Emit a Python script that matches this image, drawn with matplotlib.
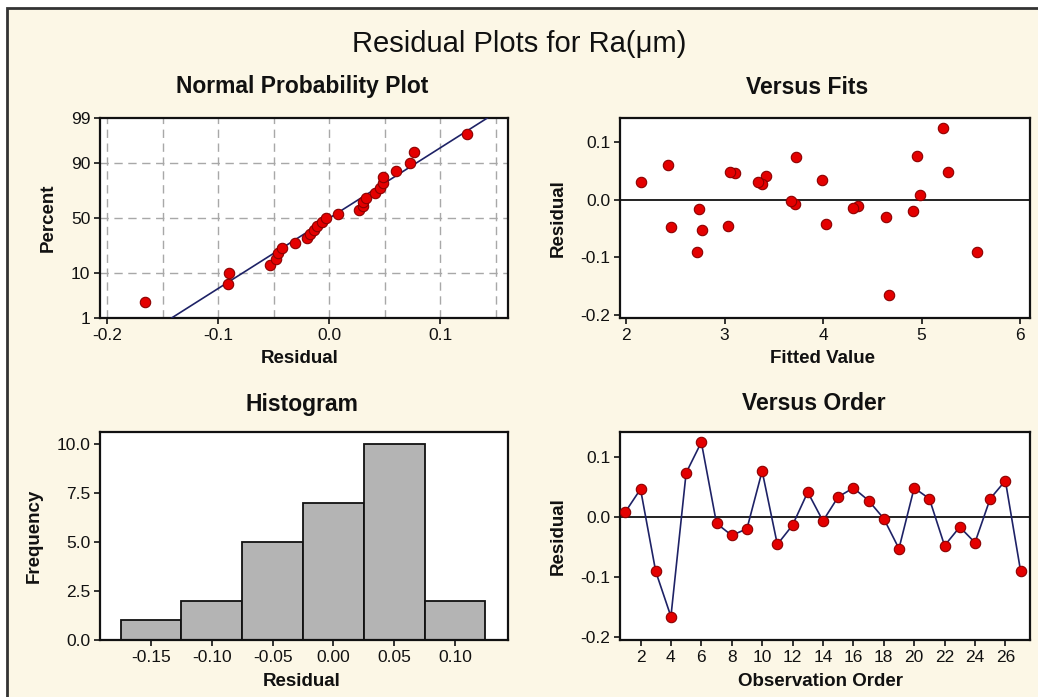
import numpy as np
import matplotlib
matplotlib.use("Agg")
import matplotlib.pyplot as plt
from matplotlib.patches import Rectangle
from statistics import NormalDist

# ------------------------------------------------------------
# Residual data (27 runs), in observation order
# ------------------------------------------------------------
order = np.arange(1, 28)

residuals = np.array([
    0.008, 0.046, -0.091, -0.166, 0.073, 0.124, -0.011, -0.031, -0.020,
    0.076, -0.046, -0.014, 0.041, -0.007, 0.033, 0.048, 0.027, -0.003,
    -0.053, 0.048, 0.030, -0.048, -0.017, -0.043, 0.030, 0.060, -0.090,
])

fitted = np.array([
    4.98, 3.11, 2.72, 4.67, 3.73, 5.22, 4.35, 4.64, 4.91,
    4.95, 3.03, 4.30, 3.42, 3.72, 3.99, 3.06, 3.38, 3.67,
    2.77, 5.27, 2.15, 2.46, 2.74, 4.03, 3.34, 2.43, 5.56,
])

hist_edges = [-0.175, -0.125, -0.075, -0.025, 0.025, 0.075, 0.125]
pct_ticks = [1, 10, 50, 90, 99]

# ------------------------------------------------------------
# Style
# ------------------------------------------------------------
plt.rcParams["font.family"] = ["Liberation Sans", "DejaVu Sans"]
plt.rcParams["axes.unicode_minus"] = False

BG = "#FCF7E6"
DOT = "#E40000"
DOT_EDGE = "#8B0000"
NAVY = "#1E2266"
GRID = "#A8A8A8"

W, H = 1038, 697
fig = plt.figure(figsize=(W / 100, H / 100), dpi=100)
fig.patch.set_facecolor("white")

# cream panel with dark frame (runs off the right and bottom edges)
fig.patches.append(Rectangle((7 / W, -0.1), 1.2, 1.1 - 8 / H, transform=fig.transFigure,
                             facecolor=BG, edgecolor="#333333", linewidth=2.0, zorder=-10))


def ax_box(x0, y0, x1, y1):
    return [x0 / W, 1 - y1 / H, (x1 - x0) / W, (y1 - y0) / H]


def style(ax):
    ax.set_facecolor("white")
    for s in ax.spines.values():
        s.set_linewidth(1.6)
        s.set_color("#111111")
    ax.tick_params(direction="out", length=4, width=1.2, labelsize=12.5,
                   colors="#111111", pad=3)


nd = NormalDist()
dot_kw = dict(ms=7.5, mfc=DOT, mec=DOT_EDGE, mew=0.8, zorder=4)

# ------------------------------------------------------------
# Normal probability plot
# ------------------------------------------------------------
ax1 = fig.add_axes(ax_box(100, 118, 508, 318))
style(ax1)
n = len(residuals)
srt = np.sort(residuals)
ranks = (np.arange(1, n + 1) - 0.3) / (n + 0.4)
zq = np.array([nd.inv_cdf(p) for p in ranks])
mu, sd = residuals.mean(), residuals.std(ddof=1)
zlim = nd.inv_cdf(0.99)
zl = np.array([-zlim, zlim])
ax1.plot(mu + zl * sd, zl, color=NAVY, lw=1.2, zorder=3)
ax1.plot(srt, zq, "o", **dot_kw)
ax1.set_xlim(-0.2066, 0.161)
ax1.set_ylim(-zlim, zlim)
ax1.set_yticks([nd.inv_cdf(p / 100) for p in pct_ticks])
ax1.set_yticklabels([str(p) for p in pct_ticks])
ax1.set_xticks([-0.2, -0.1, 0.0, 0.1])
ax1.set_xticklabels(["-0.2", "-0.1", "0.0", "0.1"])
for gx in np.arange(-0.2, 0.16, 0.05):
    ax1.axvline(gx, color=GRID, lw=1.0, ls=(0, (6, 4)), zorder=1)
for p in [10, 50, 90]:
    ax1.axhline(nd.inv_cdf(p / 100), color=GRID, lw=1.0, ls=(0, (6, 4)), zorder=1)

# ------------------------------------------------------------
# Versus fits
# ------------------------------------------------------------
ax2 = fig.add_axes(ax_box(620, 118, 1030, 318))
style(ax2)
ax2.axhline(0, color="#111111", lw=1.3, zorder=2)
ax2.plot(fitted, residuals, "o", **dot_kw)
ax2.set_xlim(1.939, 6.10)
ax2.set_ylim(-0.205, 0.141)
ax2.set_xticks([2, 3, 4, 5, 6])
ax2.set_yticks([-0.2, -0.1, 0.0, 0.1])
ax2.set_yticklabels(["-0.2", "-0.1", "0.0", "0.1"])

# ------------------------------------------------------------
# Histogram
# ------------------------------------------------------------
ax3 = fig.add_axes(ax_box(100, 432, 508, 640))
style(ax3)
ax3.hist(residuals, bins=hist_edges, color="#B4B4B4", edgecolor="#111111",
         linewidth=1.3, zorder=2)
ax3.set_xlim(-0.192, 0.1436)
ax3.set_ylim(0, 10.6)
ax3.set_xticks([-0.15, -0.10, -0.05, 0.0, 0.05, 0.10])
ax3.set_xticklabels(["-0.15", "-0.10", "-0.05", "0.00", "0.05", "0.10"])
ax3.set_yticks([0, 2.5, 5, 7.5, 10])
ax3.set_yticklabels(["0.0", "2.5", "5.0", "7.5", "10.0"])

# ------------------------------------------------------------
# Versus order
# ------------------------------------------------------------
ax4 = fig.add_axes(ax_box(620, 432, 1030, 640))
style(ax4)
ax4.axhline(0, color="#111111", lw=1.3, zorder=2)
ax4.plot(order, residuals, "-", color=NAVY, lw=1.2, zorder=3)
ax4.plot(order, residuals, "o", **dot_kw)
ax4.set_xlim(0.65, 27.62)
ax4.set_ylim(-0.205, 0.141)
ax4.set_xticks(np.arange(2, 27, 2))
ax4.set_yticks([-0.2, -0.1, 0.0, 0.1])
ax4.set_yticklabels(["-0.2", "-0.1", "0.0", "0.1"])

# ------------------------------------------------------------
# Titles and axis labels
# ------------------------------------------------------------
def ftext(x, y, s, **kw):
    fig.text(x / W, 1 - y / H, s, ha="center", va="center", color="#111111", **kw)


ftext(519, 44, "Residual Plots for Ra(\u03bcm)", fontsize=21)
ftext(302, 87, "Normal Probability Plot", fontsize=16.5, fontweight="bold")
ftext(807, 87, "Versus Fits", fontsize=16.5, fontweight="bold")
ftext(302, 404, "Histogram", fontsize=16.5, fontweight="bold")
ftext(814, 404, "Versus Order", fontsize=16.5, fontweight="bold")

ftext(300, 359, "Residual", fontsize=13.5, fontweight="bold")
ftext(822, 359, "Fitted Value", fontsize=13.5, fontweight="bold")
ftext(302, 681, "Residual", fontsize=13.5, fontweight="bold")
ftext(821, 681, "Observation Order", fontsize=13.5, fontweight="bold")

ftext(48, 218, "Percent", fontsize=13.5, fontweight="bold", rotation=90)
ftext(558, 218, "Residual", fontsize=13.5, fontweight="bold", rotation=90)
ftext(34, 536, "Frequency", fontsize=13.5, fontweight="bold", rotation=90)
ftext(558, 536, "Residual", fontsize=13.5, fontweight="bold", rotation=90)

fig.savefig("out.png", dpi=100, facecolor=fig.get_facecolor())
